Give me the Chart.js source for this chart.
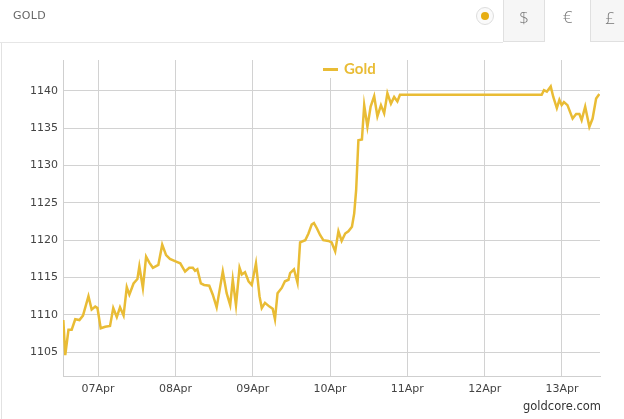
<!DOCTYPE html>
<html>
<head>
<meta charset="utf-8">
<script src="https://cdn.jsdelivr.net/npm/chart.js@4"></script>
<style>
  body { margin: 0; background: #fff; }
  #wrap { position: relative; width: 624px; height: 419px; overflow: hidden; }
  #myChart { position: absolute; left: 0; top: 0; }
  .frame-left { position: absolute; left: 1px; top: 42px; width: 1px; height: 377px; background: #e2e2e2; }
  .head-line { position: absolute; left: 0; top: 42px; width: 503px; height: 1px; background: #e6e6e6; }
  .title { position: absolute; left: 13px; top: 9px; font: 11px "DejaVu Sans", sans-serif; color: #666; letter-spacing: 0.3px; }
  .dot { position: absolute; left: 476px; top: 7px; width: 18px; height: 18px; border: 1px solid #ddd; border-radius: 50%; background: #fafafa; box-sizing: border-box; }
  .dot::after { content: ''; position: absolute; left: 4px; top: 4px; width: 8px; height: 8px; border-radius: 50%; background: #e6ad12; }
  .tab { position: absolute; top: -1px; height: 43px; font: 300 17px "Open Sans", sans-serif; color: #777; text-align: center; line-height: 36px; box-sizing: border-box; }
  .tab.off { background: #f6f6f6; border: 1px solid #e0e0e0; }
  .legend { position: absolute; left: 319px; top: 60px; width: 66px; height: 18px; background: #fff; }
  .legend .ln { position: absolute; left: 4px; top: 8px; width: 15px; height: 3px; background: #e9bc35; }
  .legend .tx { position: absolute; left: 25px; top: -1px; font: bold 15px Lato, sans-serif; color: #e9bc35; }
  .credit { position: absolute; right: 23px; top: 399px; font: 11.5px "DejaVu Sans", sans-serif; color: #333; }
</style>
</head>
<body>
<div id="wrap">
  <canvas id="myChart" width="624" height="419"></canvas>
  <div class="frame-left"></div>
  <div class="head-line"></div>
  <div class="title">GOLD</div>
  <div class="dot"></div>
  <div class="tab off" style="left:503px;width:42px;">$</div>
  <div class="tab" style="left:545px;width:45px;">€</div>
  <div class="tab off" style="left:590px;width:40px;">£</div>
  <div class="legend"><div class="ln"></div><div class="tx">Gold</div></div>
  <div class="credit">goldcore.com</div>
</div>
<script>
// hours counted from 07Apr 00:00
const hours = [
  -10.8, -10.2, -9.2, -8.2, -7.1, -5.8, -4.7, -3.0, -2.0, -0.9, -0.2, 0.8, 2.2, 3.7, 4.7, 5.8, 6.8, 7.9, 8.9, 9.7,
  11.0, 12.2, 12.8, 13.9, 14.9, 15.9, 17.0, 18.7, 19.9, 21.1, 22.3, 24.4, 25.5, 27.0, 28.3, 29.4, 30.1, 30.8, 31.9, 32.9,
  34.5, 35.6, 36.8, 38.7, 39.9, 41.0, 41.8, 42.8, 43.9, 44.6, 45.6, 46.7, 47.7, 49.0, 50.1, 50.8, 51.8, 53.2, 54.2, 54.9,
  55.7, 57.0, 58.0, 59.1, 59.6, 60.8, 61.9, 62.7, 64.3, 65.3, 66.3, 67.0, 67.9, 68.9, 69.9, 71.5, 72.5, 73.6, 74.6, 75.6,
  76.7, 77.7, 78.8, 79.5, 80.1, 80.8, 81.9, 82.6, 83.6, 84.6, 85.7, 86.7, 87.8, 88.8, 89.8, 90.9, 91.9, 92.9, 93.7, 137.7,
  138.4, 139.3, 140.5, 141.3, 142.4, 143.2, 143.9, 144.6, 145.7, 146.5, 147.3, 148.4, 149.4, 150.1, 151.2, 152.5, 153.5, 154.6, 155.6
];
const gold = [
  1109.3, 1104.6, 1108.0, 1108.0, 1109.4, 1109.3, 1109.9, 1112.5, 1110.7, 1111.1, 1110.9, 1108.2, 1108.4, 1108.5, 1110.9, 1109.7, 1111.0, 1109.9, 1113.7, 1112.7,
  1114.2, 1114.8, 1116.5, 1113.6, 1117.8, 1117.0, 1116.3, 1116.7, 1119.4, 1118.0, 1117.5, 1117.1, 1116.9, 1115.8, 1116.3, 1116.3, 1115.9, 1116.1, 1114.2, 1114.0,
  1113.9, 1112.7, 1111.0, 1115.8, 1112.9, 1111.3, 1114.7, 1111.3, 1116.3, 1115.4, 1115.7, 1114.5, 1114.0, 1116.9, 1112.5, 1110.9, 1111.6, 1111.1, 1110.8, 1109.4,
  1112.9, 1113.6, 1114.5, 1114.7, 1115.6, 1116.1, 1114.3, 1119.7, 1120.0, 1120.9, 1122.1, 1122.3, 1121.6, 1120.7, 1120.0, 1119.9, 1119.7, 1118.5, 1121.2, 1119.9,
  1120.9, 1121.2, 1121.8, 1123.6, 1126.7, 1133.4, 1133.5, 1138.1, 1135.2, 1137.9, 1139.3, 1136.6, 1138.1, 1137.0, 1139.7, 1138.3, 1139.2, 1138.6, 1139.5, 1139.5,
  1140.1, 1139.9, 1140.6, 1139.2, 1137.7, 1138.8, 1138.1, 1138.5, 1138.1, 1137.2, 1136.3, 1136.9, 1136.9, 1136.1, 1137.9, 1135.2, 1136.3, 1139.0, 1139.6
];
const dayTicks = [0, 24, 48, 72, 96, 120, 144];
const dayLabels = ['07Apr', '08Apr', '09Apr', '10Apr', '11Apr', '12Apr', '13Apr'];
const priceTicks = [1105, 1110, 1115, 1120, 1125, 1130, 1135, 1140];

const points = hours.map((h, i) => ({ x: h, y: gold[i] }));

new Chart(document.getElementById('myChart'), {
  type: 'line',
  data: {
    datasets: [{
      label: 'Gold',
      data: points,
      borderColor: '#e9bc35',
      borderWidth: 2.5,
      pointRadius: 0,
      tension: 0,
      fill: false
    }]
  },
  options: {
    responsive: false,
    animation: false,
    devicePixelRatio: 1,
    layout: { padding: { left: 0, right: 24, top: 60, bottom: 0 } },
    plugins: { legend: { display: false }, tooltip: { enabled: false } },
    scales: {
      x: {
        type: 'linear',
        min: -10.9,
        max: 155.8,
        afterBuildTicks: s => { s.ticks = dayTicks.map(v => ({ value: v })); },
        afterFit: s => { s.height = 43; },
        grid: { color: '#d2d2d2', drawTicks: false },
        border: { color: '#cfcfcf' },
        ticks: {
          autoSkip: false,
          maxRotation: 0,
          padding: 7,
          color: '#444',
          font: { family: 'DejaVu Sans', size: 11 },
          callback: v => dayLabels[dayTicks.indexOf(v)]
        }
      },
      y: {
        min: 1101.8,
        max: 1144.15,
        afterBuildTicks: s => { s.ticks = priceTicks.map(v => ({ value: v })); },
        afterFit: s => { s.width = 63; },
        grid: { color: '#d2d2d2', drawTicks: false },
        border: { color: '#cfcfcf' },
        ticks: {
          padding: 5,
          color: '#444',
          font: { family: 'DejaVu Sans', size: 11 },
          callback: v => String(v)
        }
      }
    }
  }
});
</script>
</body>
</html>
